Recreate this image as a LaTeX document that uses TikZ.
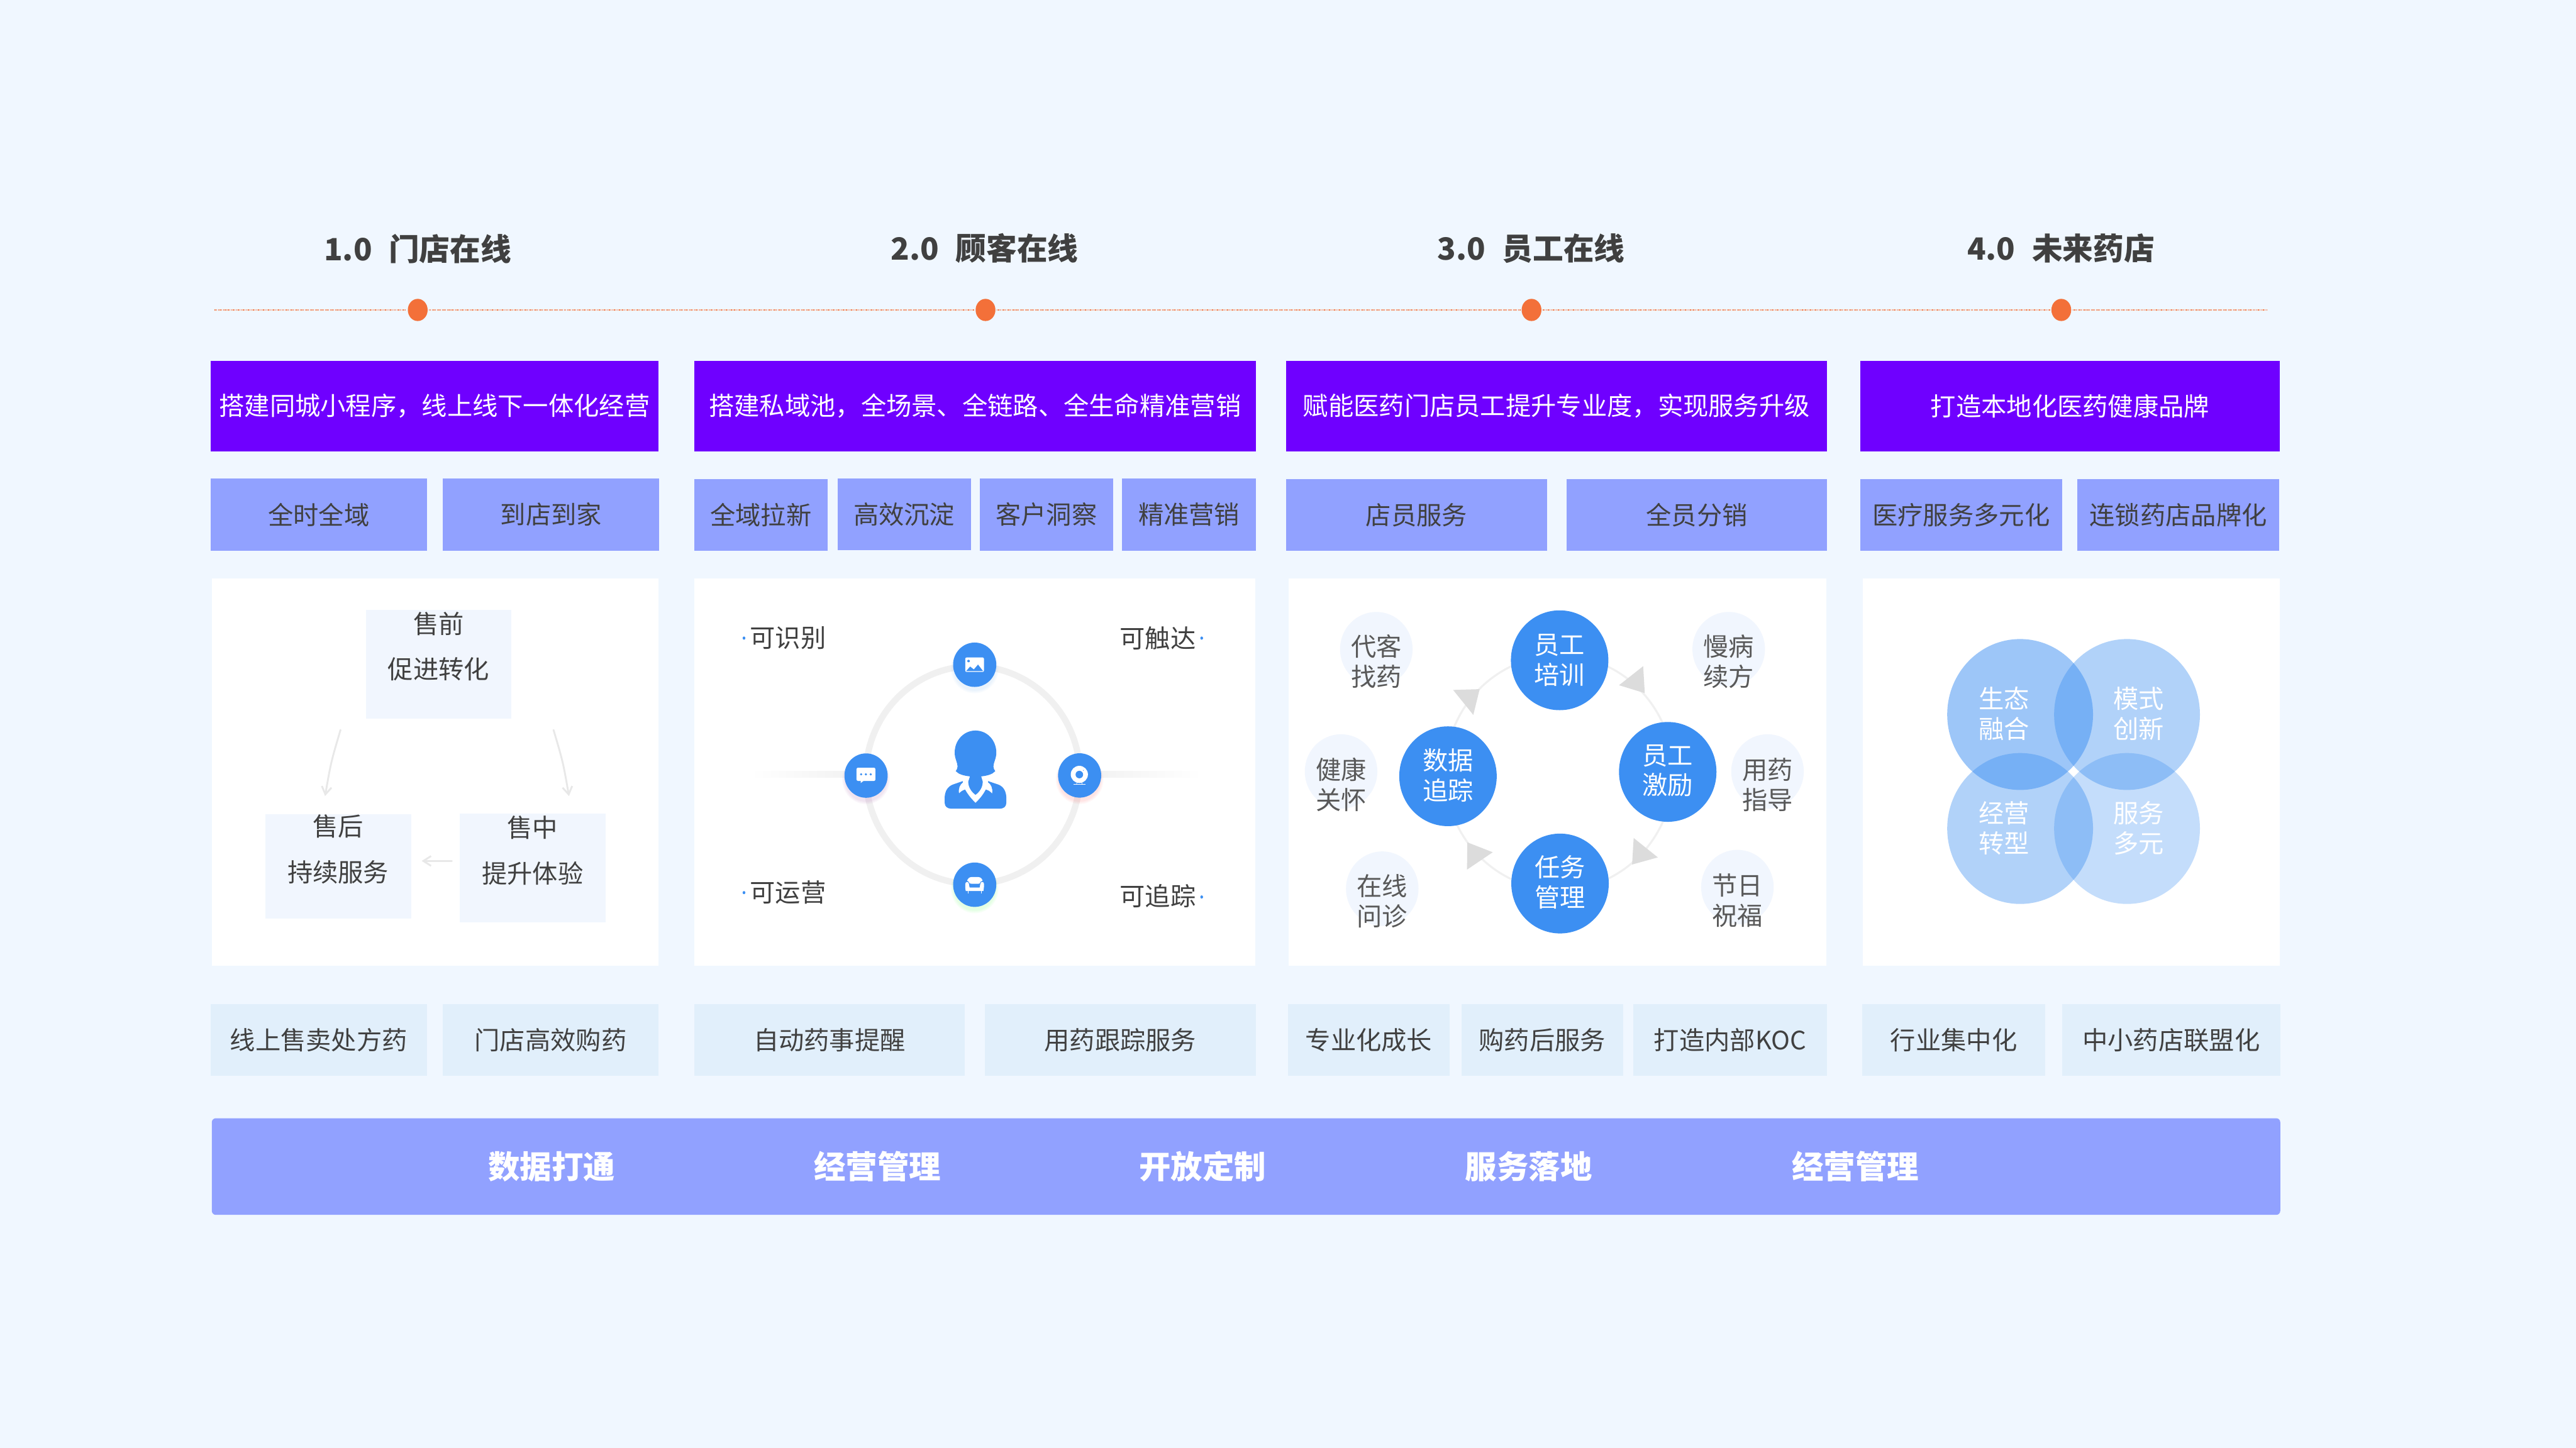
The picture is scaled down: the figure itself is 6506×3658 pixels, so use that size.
\documentclass[tikz,border=0pt]{standalone}
\usepackage{fontspec}
\setmainfont{Noto Sans CJK SC}
\usetikzlibrary{shapes.geometric,arrows.meta}
\definecolor{pagebg}{HTML}{F0F7FF}
\definecolor{purplebar}{HTML}{6F00FF}
\definecolor{periw}{HTML}{91A1FF}
\definecolor{palebox}{HTML}{E1EFFB}
\definecolor{softbox}{HTML}{F1F6FE}
\definecolor{bluemain}{HTML}{3C8FF2}
\definecolor{orangedot}{HTML}{F37039}
\definecolor{inktext}{HTML}{404040}
\definecolor{softtext}{HTML}{595959}
\definecolor{ringgrey}{HTML}{F0F0F0}
\definecolor{arrowgrey}{HTML}{E8E8E8}
\definecolor{trigrey}{HTML}{DCDCDC}
\newcommand\boxat[7]{%
  \pgfmathsetmacro\bxcx{(#3+#5)/2}%
  \pgfmathsetmacro\bxcy{(#4+#6)/2}%
  \pgfmathsetmacro\bxw{(#5-#3)*0.01}%
  \pgfmathsetmacro\bxh{(#6-#4)*0.01}%
  \node[#2,minimum width=\bxw cm,minimum height=\bxh cm] (#1) at (\bxcx,\bxcy) {#7};}
\tikzset{
  txt/.style={inner sep=0pt,align=center,font=\fontsize{18.2}{21.6}\selectfont},
  whitepanel/.style={fill=white,inner sep=0pt},
  topbar/.style={txt,fill=purplebar,text=white},
  midbox/.style={txt,fill=periw,text=inktext},
  lowbox/.style={txt,fill=palebox,text=inktext},
  softrect/.style={fill=softbox,inner sep=0pt},
  label/.style={txt,text=inktext},
  softlabel/.style={txt,text=softtext},
  whitelabel/.style={txt,text=white},
  titlelabel/.style={inner sep=0pt,text=inktext,font=\fontsize{22}{26}\selectfont\bfseries},
  barlabel/.style={inner sep=0pt,text=white,font=\fontsize{22.8}{27}\selectfont\bfseries},
  orangenode/.style={ellipse,fill=orangedot,inner sep=0pt,minimum width=0.5cm,minimum height=0.56cm},
  bigcirc/.style={ellipse,fill=bluemain,inner sep=0pt,minimum width=2.46cm,minimum height=2.52cm},
  softcirc/.style={ellipse,fill=softbox,inner sep=0pt,minimum width=1.83cm,minimum height=1.88cm},
  iconcirc/.style={ellipse,fill=bluemain,inner sep=0pt,minimum width=1.09cm,minimum height=1.12cm},
  venn/.style={ellipse,fill=bluemain,inner sep=0pt,minimum width=3.68cm,minimum height=3.81cm},
  softarrow/.style={draw=arrowgrey,line width=1.3pt,line cap=round,-{Straight Barb[length=5.5pt,width=7pt]}},
}
\begin{document}
\begin{tikzpicture}[x=0.01cm,y=-0.01cm]
\useasboundingbox (0,0) rectangle (6506,3658);
\fill[pagebg] (0,0) rectangle (6506,3658);

% timeline
\coordinate (tlL) at (542,783);
\coordinate (tlR) at (5728,783);
\draw[orangedot,line width=0.5pt,dash pattern=on 0.6pt off 0.6pt] (tlL) -- (tlR);
\foreach \nm/\xx in {d1/1055,d2/2489,d3/3868,d4/5206}{
  \fill[pagebg] (\xx-28,770) rectangle (\xx+28,796);
  \node[orangenode] (\nm) at (\xx,783) {};
}
\node[titlelabel] (t1) at (1055,628) {1.0\hspace{12pt}门店在线};
\node[titlelabel] (t2) at (2487,628) {2.0\hspace{12pt}顾客在线};
\node[titlelabel] (t3) at (3867,628) {3.0\hspace{12pt}员工在线};
\node[titlelabel] (t4) at (5205,628) {4.0\hspace{12pt}未来药店};

% top bars
\boxat{b1}{topbar}{532}{911}{1663}{1140}{\raisebox{1pt}{搭建同城小程序，线上线下一体化经营}}
\boxat{b2}{topbar}{1753}{911}{3172}{1140}{\raisebox{1pt}{搭建私域池，全场景、全链路、全生命精准营销}}
\boxat{b3}{topbar}{3248}{911}{4614}{1140}{\raisebox{1pt}{赋能医药门店员工提升专业度，实现服务升级}}
\boxat{b4}{topbar}{4698}{911}{5758}{1140}{\raisebox{1pt}{打造本地化医药健康品牌}}

% second row
\boxat{m1}{midbox}{532}{1209}{1078}{1391}{全时全域}
\boxat{m2}{midbox}{1119}{1209}{1665}{1391}{到店到家}
\boxat{m3}{midbox}{1753}{1211}{2090}{1392}{全域拉新}
\boxat{m4}{midbox}{2115}{1208}{2452}{1390}{高效沉淀}
\boxat{m5}{midbox}{2474}{1209}{2812}{1391}{客户洞察}
\boxat{m6}{midbox}{2834}{1209}{3172}{1391}{精准营销}
\boxat{m7}{midbox}{3248}{1211}{3907}{1392}{店员服务}
\boxat{m8}{midbox}{3957}{1211}{4614}{1392}{全员分销}
\boxat{m9}{midbox}{4698}{1211}{5208}{1392}{医疗服务多元化}
\boxat{m10}{midbox}{5247}{1211}{5756}{1392}{连锁药店品牌化}

% white panels
\boxat{p1}{whitepanel}{535}{1461}{1663}{2440}{}
\boxat{p2}{whitepanel}{1753}{1461}{3170}{2440}{}
\boxat{p3}{whitepanel}{3254}{1461}{4613}{2440}{}
\boxat{p4}{whitepanel}{4705}{1461}{5758}{2440}{}

% panel 1
\boxat{s1}{softrect}{924}{1541}{1292}{1816}{}
\boxat{s2}{softrect}{670}{2057}{1039}{2321}{}
\boxat{s3}{softrect}{1161}{2055}{1529}{2330}{}
\node[label] (s1a) at (1108,1576) {售前};
\node[label] (s1b) at (1108,1690) {促进转化};
\node[label] (s2a) at (854,2087) {售后};
\node[label] (s2b) at (854,2204) {持续服务};
\node[label] (s3a) at (1345,2090) {售中};
\node[label] (s3b) at (1345,2207) {提升体验};
\coordinate (a1s) at (860,1844);
\coordinate (a1c) at (836,1925);
\coordinate (a1e) at (821,2011);
\coordinate (a2s) at (1398,1844);
\coordinate (a2c) at (1422,1925);
\coordinate (a2e) at (1437,2011);
\coordinate (a3s) at (1141,2175);
\coordinate (a3e) at (1065,2175);
\draw[softarrow] (a1s) .. controls (a1c) .. (a1e);
\draw[softarrow] (a2s) .. controls (a2c) .. (a2e);
\draw[softarrow] (a3s) -- (a3e);

% panel 2
\shade[left color=white,right color=ringgrey] (1897,1948) rectangle (2190,1964);
\shade[left color=ringgrey,right color=white] (2725,1948) rectangle (3035,1964);
\draw[ringgrey,line width=16*0.01cm] (2457,1958) ellipse [x radius=2.70cm,y radius=2.75cm];
\foreach \xx/\yy/\cc in {2461.7/1679.3/bluemain,2187.3/1959.3/violet,2726.7/1959/red,2461.7/2235/green}{
  \foreach \gr in {0,3,6}{
    \fill[\cc,opacity=0.035] (\xx,\yy+10) ellipse [x radius={(0.54+0.01*\gr)*1cm},y radius={(0.56+0.01*\gr)*1cm}];
  }
}
\node[iconcirc] (n1) at (2461.7,1679.3) {};
\node[iconcirc] (n2) at (2187.3,1959.3) {};
\node[iconcirc] (n3) at (2726.7,1959) {};
\node[iconcirc] (n4) at (2461.7,2235) {};
\begin{scope}[shift={(2130,1620)},x=0.0033333cm,y=-0.0033333cm]
  % picture icon
  \fill[white,rounded corners=1pt] (925,123) rectangle (1067,233);
  \fill[bluemain] (950,150) circle [radius=0.033cm];
  \fill[bluemain] (932,226) -- (962,192) -- (990,214) -- (1022,177) -- (1060,226) -- cycle;
  % chat icon
  \fill[white,rounded corners=1pt] (100,960) rectangle (243,1060);
  \fill[white] (132,1055) -- (132,1076) -- (155,1058) -- cycle;
  \foreach \xx in {135,171,208}{\fill[bluemain] (\xx,1010) circle [radius=0.03cm];}
\end{scope}
\begin{scope}[shift={(2280,1780)},x=0.0033333cm,y=-0.0033333cm]
  % person
  \fill[bluemain] (552,197) .. controls (640,197) and (710,270) .. (710,365)
    .. controls (710,410) and (688,440) .. (688,470)
    .. controls (688,485) and (695,495) .. (702,505)
    .. controls (680,530) and (640,540) .. (595,545)
    -- (607,585) .. controls (607,630) and (580,665) .. (552,685)
    .. controls (525,665) and (497,630) .. (497,585)
    -- (510,545) .. controls (465,540) and (425,530) .. (402,505)
    .. controls (409,495) and (416,485) .. (416,470)
    .. controls (416,440) and (394,410) .. (394,365)
    .. controls (394,270) and (464,197) .. (552,197) -- cycle;
  \fill[bluemain] (455,581) -- (380,607) .. controls (340,622) and (318,660) .. (318,710)
    -- (318,745) .. controls (318,775) and (340,790) .. (370,790)
    -- (735,790) .. controls (765,790) and (786,775) .. (786,745)
    -- (786,710) .. controls (786,660) and (765,622) .. (725,607)
    -- (648,581) -- (648,590) .. controls (670,605) and (685,635) .. (678,675)
    .. controls (665,660) and (650,650) .. (630,645)
    .. controls (610,685) and (580,720) .. (552,746)
    .. controls (525,720) and (495,685) .. (473,645)
    .. controls (455,650) and (440,660) .. (427,675)
    .. controls (420,635) and (435,605) .. (457,590) -- cycle;
  % camera icon
  \fill[white] (1340,530) circle [radius=0.217cm];
  \fill[bluemain] (1340,531) circle [radius=0.095cm];
  \fill[bluemain] (1371,499) circle [radius=0.011cm];
  \draw[white,line width=0.3pt] (1322,592) -- (1318,607) (1358,592) -- (1362,607);
  \draw[white,line width=0.4pt] (1295,607) -- (1385,607);
  % sofa icon
  \fill[white,rounded corners=3pt] (490,1309) rectangle (605,1360);
  \fill[white] (478,1415) .. controls (474,1395) and (474,1375) .. (474,1362)
    .. controls (476,1342) and (500,1340) .. (504,1360) -- (509,1388) -- (582,1388) -- (587,1360)
    .. controls (592,1340) and (616,1342) .. (617,1362)
    .. controls (617,1375) and (616,1395) .. (612,1415) -- cycle;
  \draw[bluemain,line width=0.4pt] (489,1341) .. controls (505,1345) and (505,1360) .. (509,1386) -- (582,1386) .. controls (586,1360) and (586,1345) .. (604,1341);
  \draw[white,line width=0.3pt] (497,1415) -- (497,1432) (594,1415) -- (594,1432);
\end{scope}
\node[label] (k1) at (1990,1612) {可识别};
\node[label] (k2) at (2924,1612) {可触达};
\node[label] (k3) at (1990,2255) {可运营};
\node[label] (k4) at (2924,2264) {可追踪};
\foreach \xx/\yy in {1879/1612,3035/1612,1879/2255,3035/2266}{
  \fill[bluemain] (\xx,\yy) ellipse [x radius=0.035cm,y radius=0.04cm];
}

% panel 3
\draw[ringgrey,line width=5*0.01cm] (3938,1952) ellipse [x radius=2.88cm,y radius=2.96cm];
\fill[trigrey] (4150,1683) -- (4089,1731) -- (4154,1751) -- cycle;
\fill[trigrey] (3670,1743) -- (3737,1741) -- (3721,1806) -- cycle;
\fill[trigrey] (4126,2117) -- (4187,2166) -- (4122,2184) -- cycle;
\fill[trigrey] (3706,2128) -- (3770,2153) -- (3705,2197) -- cycle;
\node[softcirc] (c1) at (3476,1640) {};
\node[softcirc] (c2) at (4366,1640) {};
\node[softcirc] (c3) at (3387,1949) {};
\node[softcirc] (c4) at (4464,1949) {};
\node[softcirc] (c5) at (3491,2245) {};
\node[softcirc] (c6) at (4388,2241) {};
\node[softlabel] (ct1) at (3476,1671) {代客\\找药};
\node[softlabel] (ct2) at (4366,1671) {慢病\\续方};
\node[softlabel] (ct3) at (3387,1982) {健康\\关怀};
\node[softlabel] (ct4) at (4464,1983) {用药\\指导};
\node[softlabel] (ct5) at (3491,2276) {在线\\问诊};
\node[softlabel] (ct6) at (4388,2275) {节日\\祝福};
\node[bigcirc] (g1) at (3939,1668) {};
\node[bigcirc] (g2) at (4212,1950) {};
\node[bigcirc] (g3) at (3657,1961) {};
\node[bigcirc] (g4) at (3940,2232) {};
\node[whitelabel] (gt1) at (3939,1668) {员工\\培训};
\node[whitelabel] (gt2) at (4212,1947) {员工\\激励};
\node[whitelabel] (gt3) at (3657,1958) {数据\\追踪};
\node[whitelabel] (gt4) at (3940,2229) {任务\\管理};

% panel 4
\node[venn,fill opacity=0.5] (v1) at (5102,1805) {};
\node[venn,fill opacity=0.4] (v2) at (5372,1805) {};
\node[venn,fill opacity=0.4] (v3) at (5102,2093) {};
\node[venn,fill opacity=0.3] (v4) at (5372,2093) {};
\node[whitelabel] (vt1) at (5061,1803) {生态\\融合};
\node[whitelabel] (vt2) at (5401,1803) {模式\\创新};
\node[whitelabel] (vt3) at (5061,2092) {经营\\转型};
\node[whitelabel] (vt4) at (5401,2092) {服务\\多元};

% low row
\boxat{l1}{lowbox}{532}{2537}{1078}{2718}{线上售卖处方药}
\boxat{l2}{lowbox}{1118}{2537}{1663}{2718}{门店高效购药}
\boxat{l3}{lowbox}{1753}{2537}{2437}{2718}{自动药事提醒}
\boxat{l4}{lowbox}{2487}{2537}{3172}{2718}{用药跟踪服务}
\boxat{l5}{lowbox}{3253}{2537}{3661}{2718}{专业化成长}
\boxat{l6}{lowbox}{3691}{2537}{4099}{2718}{购药后服务}
\boxat{l7}{lowbox}{4125}{2537}{4614}{2718}{打造内部KOC}
\boxat{l8}{lowbox}{4703}{2537}{5166}{2718}{行业集中化}
\boxat{l9}{lowbox}{5208}{2537}{5759}{2718}{中小药店联盟化}

% bottom bar
\fill[periw,rounded corners=0.1cm] (535,2825) rectangle (5759,3069);
\node[barlabel] (z1) at (1393,2947) {数据打通};
\node[barlabel] (z2) at (2216,2947) {经营管理};
\node[barlabel] (z3) at (3037,2947) {开放定制};
\node[barlabel] (z4) at (3861,2947) {服务落地};
\node[barlabel] (z5) at (4686,2947) {经营管理};
\end{tikzpicture}
\end{document}
